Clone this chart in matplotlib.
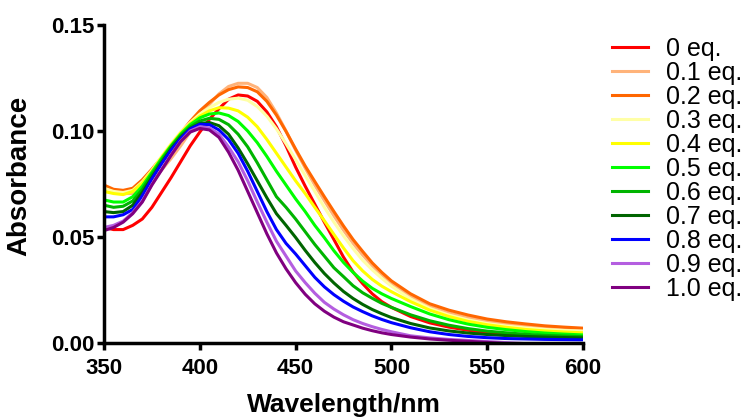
import matplotlib
matplotlib.use("Agg")
import matplotlib.pyplot as plt

plt.rcParams['font.family'] = ['Liberation Sans', 'DejaVu Sans']

# Wavelength grid (nm)
wl = [350, 355, 360, 365, 370, 375, 380, 385, 390, 395,
      400, 405, 410, 415, 420, 425, 430, 435, 440, 445,
      450, 455, 460, 465, 470, 475, 480, 485, 490, 495,
      500, 510, 520, 530, 540, 550, 560, 570, 580, 590, 600]

# Absorbance for each equivalent
eq00 = [0.0545, 0.0535, 0.0535, 0.0555, 0.0585, 0.0640, 0.0710, 0.0780, 0.0855, 0.0930,
        0.0995, 0.1055, 0.1105, 0.1150, 0.1170, 0.1165, 0.1140, 0.1090, 0.1020, 0.0930,
        0.0830, 0.0740, 0.0655, 0.0570, 0.0488, 0.0405, 0.0335, 0.0280, 0.0232, 0.0195,
        0.0168, 0.0125, 0.0095, 0.0075, 0.0060, 0.0048, 0.0040, 0.0033, 0.0028, 0.0025, 0.0022]
eq01 = [0.0725, 0.0715, 0.0705, 0.0705, 0.0725, 0.0765, 0.0815, 0.0870, 0.0930, 0.0995,
        0.1065, 0.1125, 0.1175, 0.1210, 0.1225, 0.1225, 0.1205, 0.1158, 0.1085, 0.1000,
        0.0910, 0.0825, 0.0745, 0.0672, 0.0600, 0.0532, 0.0470, 0.0415, 0.0365, 0.0322,
        0.0283, 0.0218, 0.0172, 0.0142, 0.0120, 0.0103, 0.0090, 0.0080, 0.0072, 0.0066, 0.0062]
eq02 = [0.0745, 0.0725, 0.0720, 0.0730, 0.0770, 0.0820, 0.0875, 0.0935, 0.0990, 0.1045,
        0.1095, 0.1135, 0.1170, 0.1195, 0.1208, 0.1205, 0.1185, 0.1140, 0.1075, 0.0998,
        0.0915, 0.0835, 0.0762, 0.0690, 0.0620, 0.0552, 0.0488, 0.0432, 0.0378, 0.0333,
        0.0293, 0.0232, 0.0185, 0.0155, 0.0132, 0.0113, 0.0100, 0.0090, 0.0081, 0.0075, 0.0070]
eq03 = [0.0730, 0.0715, 0.0710, 0.0720, 0.0760, 0.0815, 0.0880, 0.0940, 0.0995, 0.1040,
        0.1080, 0.1110, 0.1135, 0.1150, 0.1155, 0.1145, 0.1115, 0.1070, 0.1010, 0.0940,
        0.0865, 0.0790, 0.0715, 0.0640, 0.0570, 0.0505, 0.0445, 0.0390, 0.0345, 0.0305,
        0.0268, 0.0208, 0.0163, 0.0132, 0.0109, 0.0092, 0.0080, 0.0071, 0.0064, 0.0059, 0.0056]
eq04 = [0.0715, 0.0705, 0.0700, 0.0715, 0.0755, 0.0810, 0.0875, 0.0935, 0.0990, 0.1035,
        0.1070, 0.1095, 0.1110, 0.1108, 0.1095, 0.1065, 0.1020, 0.0960, 0.0895, 0.0830,
        0.0765, 0.0705, 0.0640, 0.0577, 0.0512, 0.0448, 0.0388, 0.0340, 0.0300, 0.0268,
        0.0242, 0.0195, 0.0155, 0.0125, 0.0102, 0.0086, 0.0074, 0.0064, 0.0057, 0.0052, 0.0048]
eq05 = [0.0675, 0.0665, 0.0665, 0.0690, 0.0740, 0.0805, 0.0870, 0.0930, 0.0985, 0.1030,
        0.1062, 0.1080, 0.1085, 0.1073, 0.1045, 0.1000, 0.0945, 0.0880, 0.0810, 0.0745,
        0.0680, 0.0620, 0.0555, 0.0497, 0.0435, 0.0380, 0.0333, 0.0292, 0.0258, 0.0232,
        0.0210, 0.0172, 0.0137, 0.0110, 0.0089, 0.0074, 0.0063, 0.0054, 0.0047, 0.0042, 0.0038]
eq06 = [0.0650, 0.0640, 0.0645, 0.0670, 0.0725, 0.0795, 0.0860, 0.0925, 0.0978, 0.1020,
        0.1047, 0.1060, 0.1055, 0.1030, 0.0985, 0.0925, 0.0850, 0.0770, 0.0690, 0.0640,
        0.0585, 0.0525, 0.0465, 0.0410, 0.0355, 0.0313, 0.0270, 0.0237, 0.0211, 0.0187,
        0.0168, 0.0133, 0.0105, 0.0084, 0.0068, 0.0056, 0.0048, 0.0041, 0.0036, 0.0033, 0.0030]
eq07 = [0.0620, 0.0615, 0.0620, 0.0650, 0.0710, 0.0780, 0.0850, 0.0915, 0.0970, 0.1012,
        0.1035, 0.1040, 0.1025, 0.0985, 0.0920, 0.0845, 0.0765, 0.0685, 0.0610, 0.0555,
        0.0498, 0.0437, 0.0380, 0.0328, 0.0283, 0.0243, 0.0210, 0.0182, 0.0158, 0.0138,
        0.0120, 0.0092, 0.0071, 0.0057, 0.0047, 0.0040, 0.0035, 0.0031, 0.0028, 0.0026, 0.0024]
eq08 = [0.0595, 0.0595, 0.0605, 0.0630, 0.0695, 0.0775, 0.0845, 0.0910, 0.0965, 0.1010,
        0.1032, 0.1030, 0.1005, 0.0960, 0.0895, 0.0810, 0.0715, 0.0620, 0.0535, 0.0470,
        0.0420, 0.0365, 0.0310, 0.0265, 0.0228, 0.0197, 0.0170, 0.0148, 0.0128, 0.0111,
        0.0096, 0.0072, 0.0053, 0.0040, 0.0031, 0.0025, 0.0021, 0.0019, 0.0017, 0.0016, 0.0015]
eq09 = [0.0545, 0.0555, 0.0575, 0.0615, 0.0670, 0.0748, 0.0818, 0.0888, 0.0952, 0.1000,
        0.1020, 0.1015, 0.0985, 0.0925, 0.0855, 0.0765, 0.0665, 0.0570, 0.0480, 0.0410,
        0.0340, 0.0285, 0.0235, 0.0192, 0.0160, 0.0133, 0.0110, 0.0092, 0.0077, 0.0064,
        0.0053, 0.0034, 0.0024, 0.0017, 0.0012, 0.0007, 0.0002, -0.0003, -0.0006, -0.0008, -0.0010]
eq10 = [0.0530, 0.0545, 0.0570, 0.0610, 0.0665, 0.0745, 0.0815, 0.0885, 0.0950, 0.0995,
        0.1012, 0.1005, 0.0970, 0.0900, 0.0815, 0.0715, 0.0615, 0.0515, 0.0425, 0.0350,
        0.0285, 0.0230, 0.0185, 0.0150, 0.0122, 0.0100, 0.0085, 0.0070, 0.0058, 0.0048,
        0.0040, 0.0028, 0.0019, 0.0013, 0.0008, 0.0003, -0.0003, -0.0008, -0.0010, -0.0012, -0.0013]

labels = ['0 eq.', '0.1 eq.', '0.2 eq.', '0.3 eq.', '0.4 eq.', '0.5 eq.',
          '0.6 eq.', '0.7 eq.', '0.8 eq.', '0.9 eq.', '1.0 eq.']
series = [eq00, eq01, eq02, eq03, eq04, eq05, eq06, eq07, eq08, eq09, eq10]
colors = ['#FF0000', '#FFB37A', '#FF6600', '#FFFFA6', '#FFFF00', '#00FF00',
          '#00B400', '#006400', '#0000FF', '#B45EE0', '#800080']

fig = plt.figure(figsize=(7.5, 4.17), dpi=100)
ax = fig.add_axes([104 / 750, 74 / 417, 479 / 750, 318 / 417])

for ys, c, lab in zip(series, colors, labels):
    ax.plot(wl, ys, color=c, lw=2.2, label=lab)

ax.set_xlim(350, 600)
ax.set_ylim(0, 0.15)
ax.set_xticks([350, 400, 450, 500, 550, 600])
ax.set_yticks([0.00, 0.05, 0.10, 0.15])
ax.set_yticklabels(['0.00', '0.05', '0.10', '0.15'])

for s in ['top', 'right']:
    ax.spines[s].set_visible(False)
for s in ['left', 'bottom']:
    ax.spines[s].set_linewidth(2.5)
ax.tick_params(direction='out', length=5, width=2.5, labelsize=16)
ax.tick_params(axis='x', pad=6)
ax.tick_params(axis='y', pad=2)
for t in ax.get_xticklabels() + ax.get_yticklabels():
    t.set_fontweight('bold')

ax.set_xlabel('Wavelength/nm', fontsize=19, fontweight='bold', labelpad=10)
ax.set_ylabel('Absorbance', fontsize=20, fontweight='bold')
ax.yaxis.set_label_coords(-0.150, 0.525)

fig.legend(loc='upper left', bbox_to_anchor=(612 / 750, 1 - 37 / 417),
           frameon=False, fontsize=18, handlelength=1.45, handletextpad=0.7,
           labelspacing=0.0, borderpad=0, borderaxespad=0)

fig.savefig('out.png', dpi=100)
